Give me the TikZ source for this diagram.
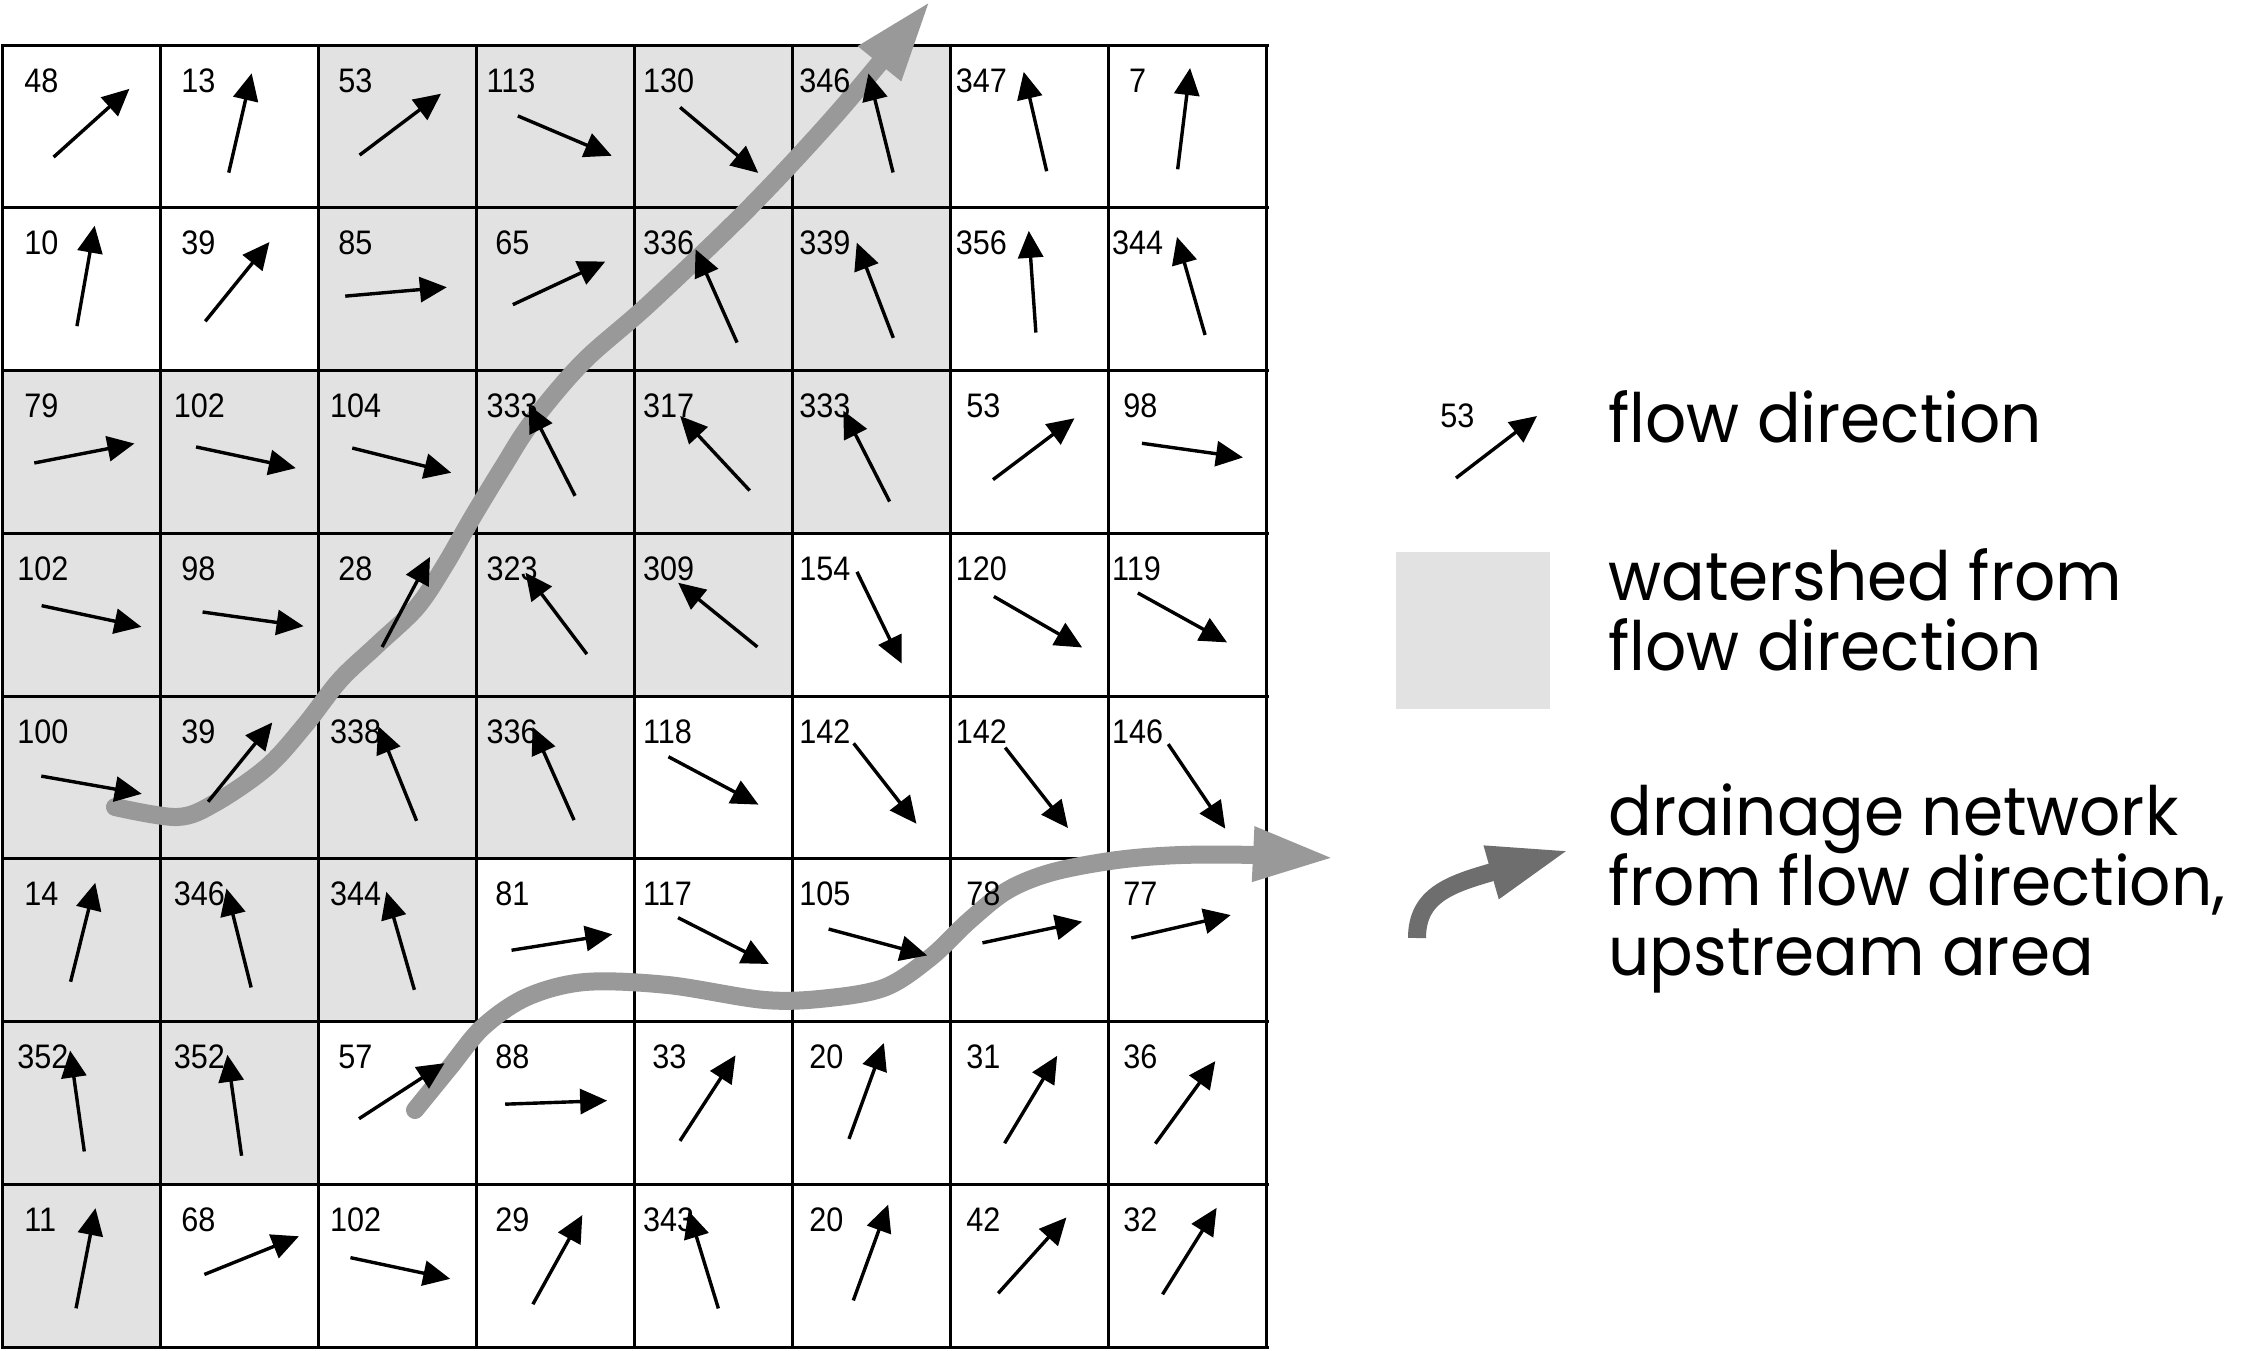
\documentclass[tikz,border=0pt]{standalone}
\usepackage{fontspec}
\setmainfont{Liberation Sans}
\newfontfamily\numfont{Liberation Sans}[FakeStretch=0.9]
\newfontfamily\legfont{Poppins}[FakeStretch=0.95]
\usetikzlibrary{arrows.meta}
\definecolor{cellgray}{RGB}{226,226,226}
\definecolor{flowgray}{RGB}{153,153,153}
\definecolor{leggray}{RGB}{110,110,110}
\begin{document}
\begin{tikzpicture}[x=0.5pt,y=-0.5pt,
  numlab/.style={font=\numfont\fontsize{17}{18}\selectfont, inner sep=0pt, anchor=west},
  flowarr/.style={line width=1.7pt, -{Triangle[length=13.5pt,width=12.5pt]}},
  gridline/.style={line width=1.5pt, line cap=rect},
  drain/.style={line width=9pt, color=flowgray, line cap=round, -{Triangle[length=41pt,width=25pt]}},
  legtext/.style={font=\legfont\fontsize{34}{35}\selectfont, inner sep=0pt, anchor=base west}]
\useasboundingbox (0,0) rectangle (2242,1350);
\fill[white] (0,0) rectangle (2242,1350);
% watershed cells
\foreach \c/\r in {2/0,3/0,4/0,5/0, 2/1,3/1,4/1,5/1, 0/2,1/2,2/2,3/2,4/2,5/2, 0/3,1/3,2/3,3/3,4/3, 0/4,1/4,2/4,3/4, 0/5,1/5,2/5, 0/6,1/6, 0/7}
  \fill[cellgray] ({2+\c*158.1},{45+\r*162.75}) rectangle +(158.1,162.75);
% grid
\foreach \i in {0,...,8} {
  \draw[gridline] ({2+\i*158.1},45) -- ({2+\i*158.1},1347);
  \draw[gridline] (2,{45+\i*162.75}) -- (1267,{45+\i*162.75});
}
% drainage network
\draw[drain] plot[smooth, tension=0.55] coordinates {(115,807) (177,817) (215,803) (267,767) (305,725) (340,680) (377,645) (417,607) (445,565) (472,518) (503,467) (532,422) (583,362) (650,303) (750,207) (840,110) (931,0)};
\draw[drain] plot[smooth, tension=0.55] coordinates {(415,1110) (450,1067) (483,1027) (527,997) (585,982) (668,985) (765,1000) (829,998) (886,987) (931,957) (970,920) (1008,890) (1053,872) (1117,860) (1181,855) (1258,855) (1335,858)};
% labels and flow directions
\foreach \c/\r/\v/\mx/\my in {
 0/0/48/64/86, 1/0/13/168/86, 2/0/53/280/87, 3/0/113/395/95, 4/0/130/503/98, 5/0/346/616/86, 6/0/347/724/85, 7/0/7/828/83,
 0/1/10/60/193, 1/1/39/166/197, 2/1/85/277/204, 3/1/65/391/198, 4/1/336/501/207, 5/1/339/612/203, 6/1/356/722/197, 7/1/344/833/200,
 0/2/79/59/317, 1/2/102/172/320, 2/2/104/281/322, 3/2/333/386/315, 4/2/317/500/317, 5/2/333/606/319, 6/2/53/723/314, 7/2/98/834/315,
 0/3/102/64/431, 1/3/98/177/433, 2/3/28/284/421, 3/3/323/389/429, 4/3/309/502/430, 5/3/154/615/432, 6/3/120/726/435, 7/3/119/827/432,
 0/4/100/64/549, 1/4/39/168/533, 2/4/338/278/541, 3/4/336/387/541, 4/4/118/499/546, 5/4/142/619/548, 6/4/142/725/551, 7/4/146/837/550,
 0/5/14/58/652, 1/5/346/167/656, 2/5/344/280/658, 3/5/81/393/659, 4/5/117/506/658, 5/5/105/614/659, 6/5/78/722/652, 7/5/77/826/648,
 0/6/352/54/770, 1/6/352/164/773, 2/6/57/281/763, 3/6/88/389/771, 4/6/33/495/768, 5/6/20/606/763, 6/6/31/721/769, 7/6/36/829/771,
 0/7/11/60/880, 1/7/68/176/878, 2/7/102/280/887, 3/7/29/390/881, 4/7/343/492/881, 5/7/20/609/876, 6/7/42/722/878, 7/7/32/832/875} {
  \pgfmathsetmacro\lx{2+\c*158.1+(\v>99 ? 15-1.7*\c : (\v>9 ? 22-1.1*\c : 20))}
  \pgfmathsetmacro\ly{45+\r*162.75+35.5}
  \node[numlab] (lab\c\r) at (\lx,\ly) {\v};
  \pgfmathsetmacro\ax{\mx*1.4298}
  \pgfmathsetmacro\ay{\my*1.4298}
  \draw[flowarr] ({\ax-51*sin(\v)},{\ay+51*cos(\v)}) -- ({\ax+51*sin(\v)},{\ay-51*cos(\v)});
}
% legend
\node[numlab] (leg53) at (1440,415.5) {53};
\coordinate (legA) at (1456,478);
\coordinate (legB) at (1537,416);
\draw[flowarr] (legA) -- (legB);
\fill[cellgray] (1396,552) rectangle (1550,709);
\draw[drain, color=leggray, line cap=butt] (1417,938) .. controls (1417,895) and (1450,884) .. (1570,850);
\node[legtext] (t1) at (1608,442) {flow direction};
\node[legtext] (t2) at (1608,600) {watershed from};
\node[legtext] (t3) at (1608,670) {flow direction};
\node[legtext] (t4) at (1608,835) {drainage network};
\node[legtext] (t5) at (1608,905) {from flow direction,};
\node[legtext] (t6) at (1608,975) {upstream area};
\end{tikzpicture}
\end{document}
